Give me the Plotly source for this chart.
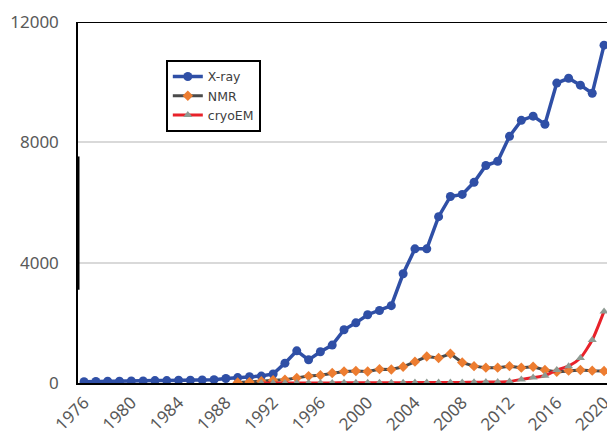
import plotly.graph_objects as go

# Annual structure depositions by experimental method
years = list(range(1976, 2021))

xray = [40, 50, 60, 60, 70, 70, 80, 80, 90, 90, 100, 110, 150, 180, 210, 230,
        300, 660, 1070, 770, 1040, 1260, 1770, 2000, 2270, 2410, 2570, 3630,
        4460, 4460, 5530, 6200, 6270, 6670, 7230, 7370, 8200, 8730, 8870,
        8600, 9970, 10130, 9900, 9630, 11230]

nmr_years = list(range(1989, 2021))
nmr = [15, 30, 60, 90, 110, 170, 230, 260, 330, 380, 400, 380, 460, 450, 540,
       710, 880, 830, 970, 680, 560, 510, 510, 560, 510, 540, 430, 370, 410,
       430, 410, 400]

cryo_years = list(range(1991, 2021))
cryoem = [1, 1, 2, 2, 3, 3, 4, 5, 5, 6, 8, 10, 12, 14, 15, 18, 20, 20, 25, 30,
          30, 50, 120, 180, 240, 430, 560, 830, 1430, 2380]

y_ticks = [0, 4000, 8000, 12000]
x_ticks = list(range(1976, 2021, 4))

FONT = "Noto Sans"

fig = go.Figure()
fig.add_trace(go.Scatter(
    x=years, y=xray, name="X-ray", mode="lines+markers",
    line=dict(color="#2F4FA6", width=3.5),
    marker=dict(symbol="circle", size=9, color="#2F4FA6"),
))
fig.add_trace(go.Scatter(
    x=nmr_years, y=nmr, name="NMR", mode="lines+markers",
    line=dict(color="#4A4A4A", width=3),
    marker=dict(symbol="diamond", size=8, color="#ED7D31"),
))
fig.add_trace(go.Scatter(
    x=cryo_years, y=cryoem, name="cryoEM", mode="lines+markers",
    line=dict(color="#E8222A", width=3, shape="spline", smoothing=0.6),
    marker=dict(symbol="triangle-up", size=8, color="#8E9B93"),
))

# frame line along the top of the plot area
fig.add_shape(type="line", xref="paper", yref="y", x0=0, x1=1.02,
              y0=12000, y1=12000, line=dict(color="black", width=2))
# heavier stretch of the value axis line
fig.add_shape(type="line", xref="paper", yref="y", x0=0, x1=0,
              y0=3100, y1=7530, line=dict(color="black", width=3))

fig.update_layout(
    width=607, height=434,
    margin=dict(l=78, r=0, t=22, b=51, autoexpand=False),
    paper_bgcolor="white", plot_bgcolor="white",
    font=dict(family=FONT, color="#595959"),
    showlegend=True,
    legend=dict(
        x=0.166, y=0.895, xanchor="left", yanchor="top",
        bgcolor="white", bordercolor="black", borderwidth=2,
        font=dict(family="DejaVu Sans", size=12.5, color="#404040"),
        tracegroupgap=0, itemwidth=30,
    ),
    xaxis=dict(
        range=[1975.49, 2020.25], tickmode="array", tickvals=x_ticks,
        ticktext=[str(v) for v in x_ticks], tickangle=-45,
        showgrid=False, zeroline=False, showline=True,
        linecolor="black", linewidth=2, ticks="",
        tickfont=dict(family=FONT, size=17, color="#595959"),
        layer="below traces", ticklabelstandoff=1,
        automargin=False, ticklabeloverflow="allow",
    ),
    yaxis=dict(
        range=[0, 12000], tickmode="array", tickvals=y_ticks,
        ticktext=[str(v) for v in y_ticks],
        showgrid=True, gridcolor="#D9D9D9", gridwidth=1.5,
        zeroline=False, showline=True, linecolor="black", linewidth=1.5,
        ticks="", tickfont=dict(family=FONT, size=17, color="#595959"),
        layer="below traces", ticklabelstandoff=14, automargin=False,
    ),
)

fig.write_html("out.html")
